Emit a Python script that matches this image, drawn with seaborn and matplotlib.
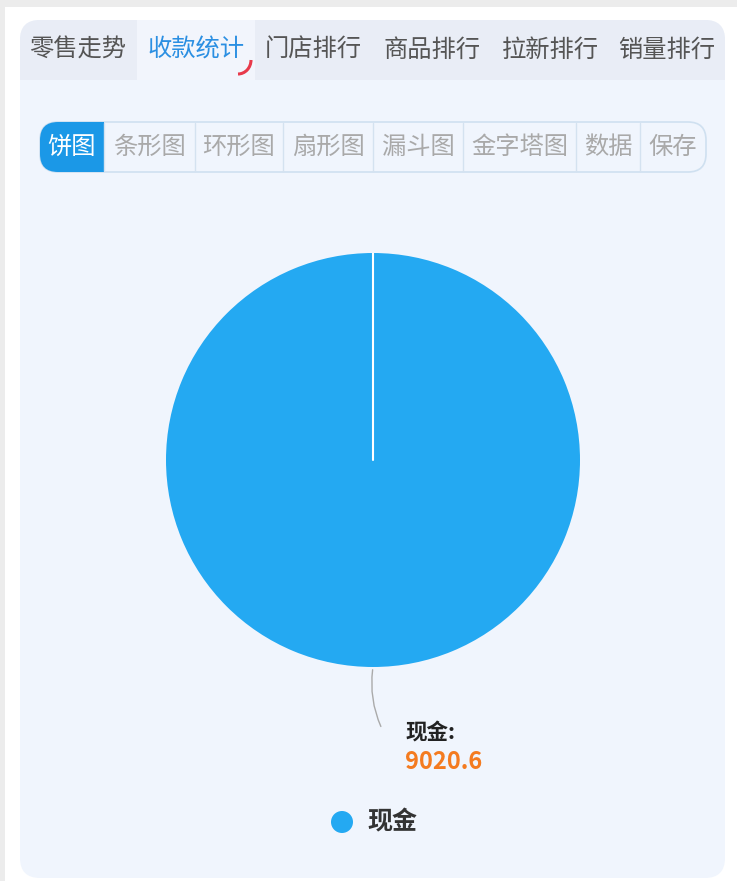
import numpy as np
import pandas as pd
import matplotlib.pyplot as plt
import seaborn as sns
from matplotlib.patches import FancyBboxPatch, Rectangle, FancyArrowPatch, Circle, Arc

# data
tab_labels = ['零售走势', '收款统计', '门店排行', '商品排行', '拉新排行', '销量排行']
active_tab = 1
button_labels = ['饼图', '条形图', '环形图', '扇形图', '漏斗图', '金字塔图', '数据', '保存']
active_button = 0
pay_types = ['现金']
pay_amounts = [9020.6]

sns.set_theme(style="white")
plt.rcParams['font.family'] = ['Noto Sans CJK SC', 'DejaVu Sans']

pie_color = sns.color_palette(['#24a9f2'])[0]

W, H = 737, 881
fig = plt.figure(figsize=(W / 100, H / 100), dpi=100)
fig.patch.set_facecolor('white')

# overlay axis in pixel coordinates
bg = fig.add_axes([0, 0, 1, 1])
bg.set_xlim(0, W)
bg.set_ylim(H, 0)
bg.axis('off')

# grey page edge
bg.add_patch(Rectangle((0, 0), W, 7, color='#ececec', lw=0))
bg.add_patch(Rectangle((0, 0), 5, H, color='#ececec', lw=0))

# card
bg.add_patch(FancyBboxPatch((20, 20), 705, 858, boxstyle="round,pad=0,rounding_size=20",
                            fc='#f0f5fd', ec='none'))
# tab bar
bg.add_patch(FancyBboxPatch((20, 20), 705, 60, boxstyle="round,pad=0,rounding_size=20",
                            fc='#e9edf6', ec='none'))
bg.add_patch(Rectangle((20, 50), 705, 30, color='#e9edf6', lw=0))
bg.add_patch(Rectangle((137, 20), 118, 60, color='#f2f5fc', lw=0))

tab_x = [78, 196, 313, 432, 550, 667]
for i, (lab, x) in enumerate(zip(tab_labels, tab_x)):
    bg.text(x, 50, lab, ha='center', va='center', fontsize=17.5,
            color='#2b8fe2' if i == active_tab else '#555555')
# small red hook under active tab
bg.add_patch(Arc((238, 60), 26, 28, theta1=0, theta2=90, color='#e8394a', lw=2.2))

# button group
edges = [40, 104, 195, 283, 373, 463, 576, 640, 706]
bg.add_patch(FancyBboxPatch((40, 122), 666, 50, boxstyle="round,pad=0,rounding_size=18",
                            fc='#f0f5fd', ec='#cfe0f0', lw=1.2))
bg.add_patch(FancyBboxPatch((40, 122), 64, 50, boxstyle="round,pad=0,rounding_size=18",
                            fc='#1b98e7', ec='none'))
bg.add_patch(Rectangle((80, 122), 24, 50, color='#1b98e7', lw=0))
for i, lab in enumerate(button_labels):
    x0, x1 = edges[i], edges[i + 1]
    if i > 0:
        bg.plot([x0, x0], [123, 171], color='#d4e2f0', lw=1)
    bg.text((x0 + x1) / 2, 147, lab, ha='center', va='center', fontsize=17.5,
            color='white' if i == active_button else '#a9a9a9')

# pie
pax = fig.add_axes([166 / W, 1 - 667 / H, 414 / W, 414 / H])
wedges, _ = pax.pie(pay_amounts, colors=[pie_color] * len(pay_amounts), startangle=90,
                    counterclock=False, radius=1, wedgeprops=dict(linewidth=0))
# slice boundary lines (white), from centre to rim at each wedge start
for w in wedges:
    a = np.deg2rad(w.theta2 if w.theta2 % 360 == 90 else w.theta1)
    pax.plot([0, np.cos(a)], [0, np.sin(a)], color='white', lw=1.5)
pax.set_xlim(-1, 1)
pax.set_ylim(-1, 1)
pax.set_aspect('equal')
pax.axis('off')

# label leader line and label
bg.add_patch(FancyArrowPatch((373, 667), (382, 729), arrowstyle='-',
                             connectionstyle='arc3,rad=0.15', color='#aaaaaa', lw=1))
bg.text(405, 733, pay_types[0] + ':', ha='left', va='center', fontsize=15.5,
        fontweight='bold', color='#222222')
bg.text(405, 762, f'{pay_amounts[0]:.1f}', ha='left', va='center', fontsize=17,
        fontweight='bold', color='#f47b20')

# legend
bg.add_patch(Circle((342, 822), 11, color=pie_color, lw=0))
bg.text(367, 822, pay_types[0], ha='left', va='center', fontsize=18,
        fontweight='bold', color='#333333')

fig.savefig('out.png', dpi=100)
